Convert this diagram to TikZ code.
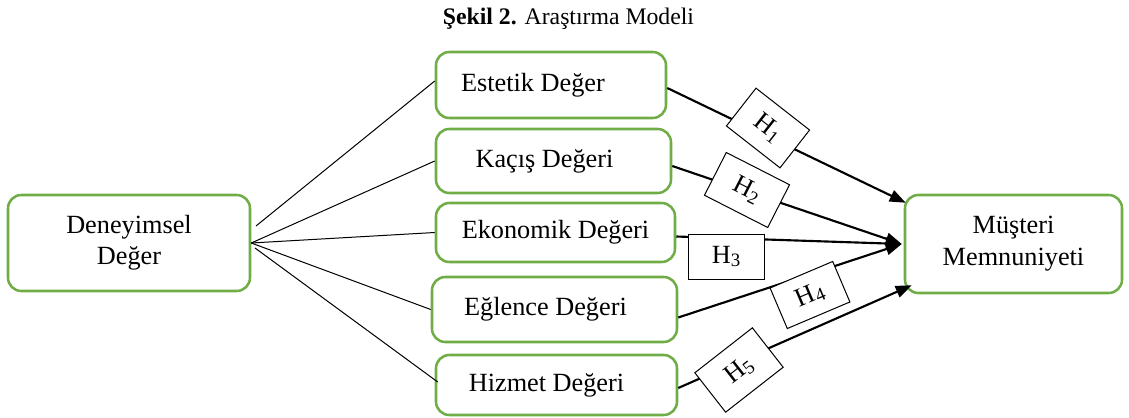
\documentclass[tikz,border=0pt]{standalone}
\usepackage{graphicx}
\usepackage{fontspec}
\setmainfont{Liberation Serif}
\usetikzlibrary{arrows.meta,calc}
\definecolor{boxgreen}{RGB}{112,173,71}
\newcommand{\hlow}[1]{H\raisebox{-0.12em}{\scalebox{0.72}{#1}}}

\begin{document}
\begin{tikzpicture}[x=0.75pt, y=-0.75pt,
	valuebox/.style={draw=boxgreen, line width=1.9pt, rounded corners=10pt, fill=white, align=center, inner sep=0pt, font=\fontsize{19.7}{23}\selectfont},
	hbox/.style={draw=black, line width=0.75pt, fill=white, inner sep=0pt, font=\fontsize{19.7}{23}\selectfont},
	thinline/.style={line width=0.75pt},
	arrowline/.style={line width=1.6pt, -{Triangle[length=12pt,width=9pt]}}]
	% Page size
	\useasboundingbox (0,0) rectangle (1129,418);

	%Title
	\node[anchor=base, font=\fontsize{17.8}{20}\selectfont] (title) at (568.5,24) {\textbf{Şekil 2.} Araştırma Modeli};

	%Value boxes
	\node[valuebox, minimum width=181.5pt, minimum height=72pt] (deney) at (129,243) {Deneyimsel\\Değer};
	\node[valuebox, minimum width=172.5pt, minimum height=49.5pt] (estetik) at (551,85) {Estetik Değer\hspace{27pt}};
	\node[valuebox, minimum width=176.25pt, minimum height=48pt] (kacis) at (553.5,161) {Kaçış Değeri\hspace{13.5pt}};
	\node[valuebox, minimum width=179.25pt, minimum height=44.25pt] (ekonomik) at (555.5,232.5) {Ekonomik Değeri};
	\node[valuebox, minimum width=183.75pt, minimum height=48.75pt] (eglence) at (554.5,309.5) {Eğlence Değeri\hspace{13.5pt}};
	\node[valuebox, minimum width=180.75pt, minimum height=45pt] (hizmet) at (556.5,385) {Hizmet Değeri\hspace{15pt}};
	\node[valuebox, minimum width=162.75pt, minimum height=73.5pt, font=\fontsize{19.7}{24}\selectfont] (musteri) at (1013.5,244) {Müşteri\\Memnuniyeti};

	%Fan of thin lines
	\coordinate (hubtop) at (256,226);
	\coordinate (hubbot) at (255,248);
	\draw[thinline] (hubtop) -- ($(estetik.west)+(0,-4)$);
	\draw[thinline] (deney.east) -- (kacis.west);
	\draw[thinline] (deney.east) -- (ekonomik.west);
	\draw[thinline] (deney.east) -- (eglence.west);
	\draw[thinline] (hubbot) -- ($(hizmet.west)+(3,-3)$);

	%Hypothesis arrows
	\draw[arrowline] ($(estetik.east)+(0,3)$) -- ($(musteri.north west)+(2,9)$);
	\draw[arrowline] ($(kacis.east)+(0,5)$) -- ($(musteri.west)+(-2,0)$);
	\draw[arrowline] ($(ekonomik.east)+(0,4)$) -- ($(musteri.west)+(-2,0)$);
	\draw[arrowline] ($(eglence.east)+(0,8)$) -- ($(musteri.west)+(-2,0)$);
	\draw[arrowline] ($(hizmet.east)+(0,3)$) -- ($(musteri.south west)+(8,-9)$);

	%Hypothesis labels
	\node[hbox, minimum width=51pt, minimum height=36pt, rotate=-38] (h1) at (768,128) {H\textsubscript{1}};
	\node[hbox, minimum width=53.25pt, minimum height=36pt, rotate=-27] (h2) at (747,190) {H\textsubscript{2}};
	\node[hbox, minimum width=57pt, minimum height=33.75pt] (h3) at (726,256.5) {\hlow{3}};
	\node[hbox, minimum width=51pt, minimum height=33pt, rotate=23] (h4) at (810,295) {\hlow{4}};
	\node[hbox, minimum width=54.75pt, minimum height=37.5pt, rotate=38] (h5) at (739,370) {\hlow{5}};

\end{tikzpicture}
\end{document}
